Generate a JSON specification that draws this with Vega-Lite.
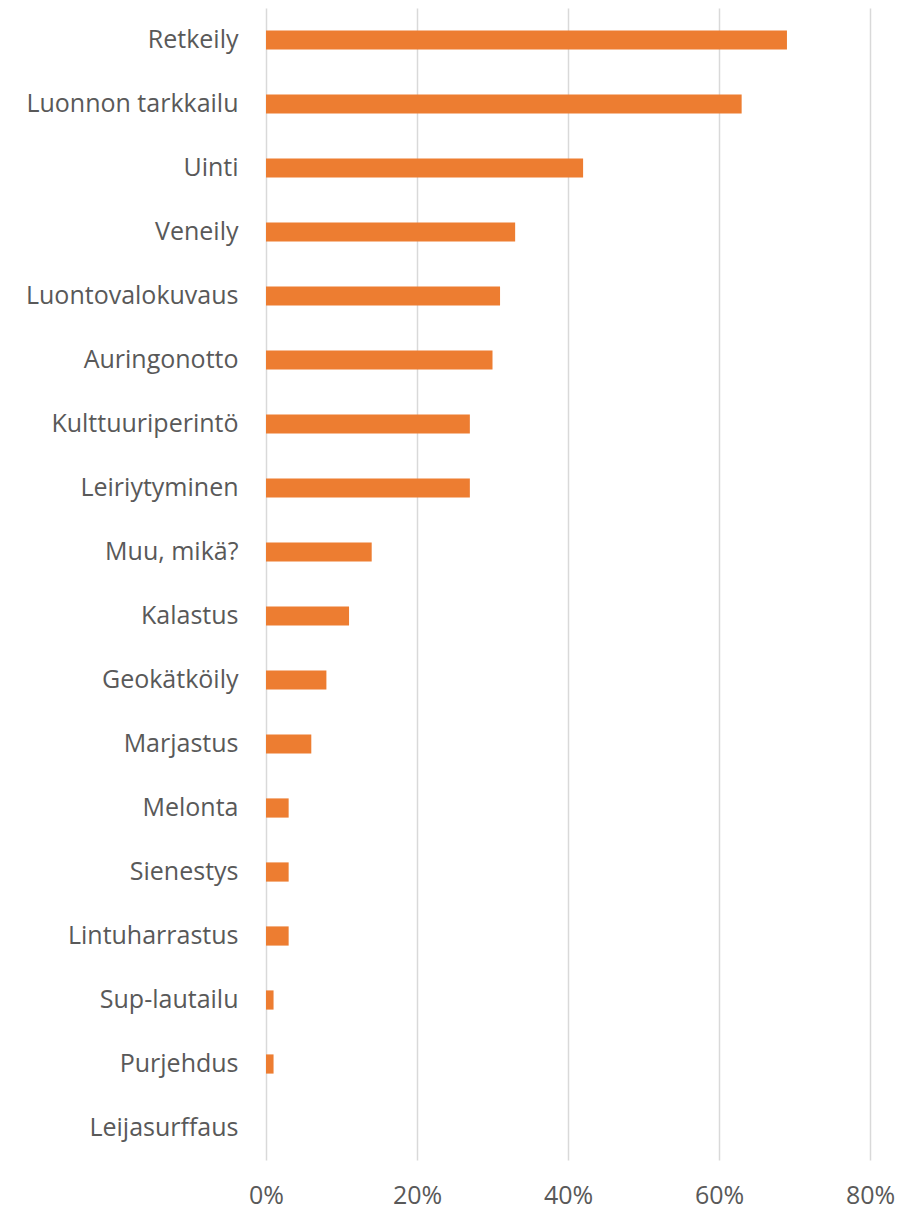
{
  "$schema": "https://vega.github.io/schema/vega-lite/v6.json",
  "autosize": {"type": "none"},
  "padding": {"left": 266, "top": 8, "right": 27, "bottom": 49},
  "width": 604,
  "height": 1152,
  "background": "white",
  "config": {"view": {"stroke": null}},
  "data": {"values": [
    {"activity": "Retkeily", "share": 0.69},
    {"activity": "Luonnon tarkkailu", "share": 0.63},
    {"activity": "Uinti", "share": 0.42},
    {"activity": "Veneily", "share": 0.33},
    {"activity": "Luontovalokuvaus", "share": 0.31},
    {"activity": "Auringonotto", "share": 0.30},
    {"activity": "Kulttuuriperintö", "share": 0.27},
    {"activity": "Leiriytyminen", "share": 0.27},
    {"activity": "Muu, mikä?", "share": 0.14},
    {"activity": "Kalastus", "share": 0.11},
    {"activity": "Geokätköily", "share": 0.08},
    {"activity": "Marjastus", "share": 0.06},
    {"activity": "Melonta", "share": 0.03},
    {"activity": "Sienestys", "share": 0.03},
    {"activity": "Lintuharrastus", "share": 0.03},
    {"activity": "Sup-lautailu", "share": 0.01},
    {"activity": "Purjehdus", "share": 0.01},
    {"activity": "Leijasurffaus", "share": 0.0}
  ]},
  "mark": {"type": "bar", "color": "#ED7D31"},
  "encoding": {
    "y": {
      "field": "activity", "type": "nominal", "sort": null,
      "scale": {"paddingInner": 0.7, "paddingOuter": 0.35},
      "axis": {"title": null, "domain": false, "ticks": false, "labelFont": "Open Sans", "labelFontSize": 25, "labelColor": "#595959", "labelPadding": 28, "labelLimit": 400}
    },
    "x": {
      "field": "share", "type": "quantitative",
      "scale": {"domain": [0, 0.8], "nice": false},
      "axis": {"title": null, "format": ".0%", "values": [0, 0.2, 0.4, 0.6, 0.8], "domain": false, "ticks": false, "grid": true, "gridColor": "#d9d9d9", "gridWidth": 1.5, "labelFont": "Open Sans", "labelFontSize": 25, "labelColor": "#595959", "labelPadding": 23, "labelFlush": false}
    }
  }
}
